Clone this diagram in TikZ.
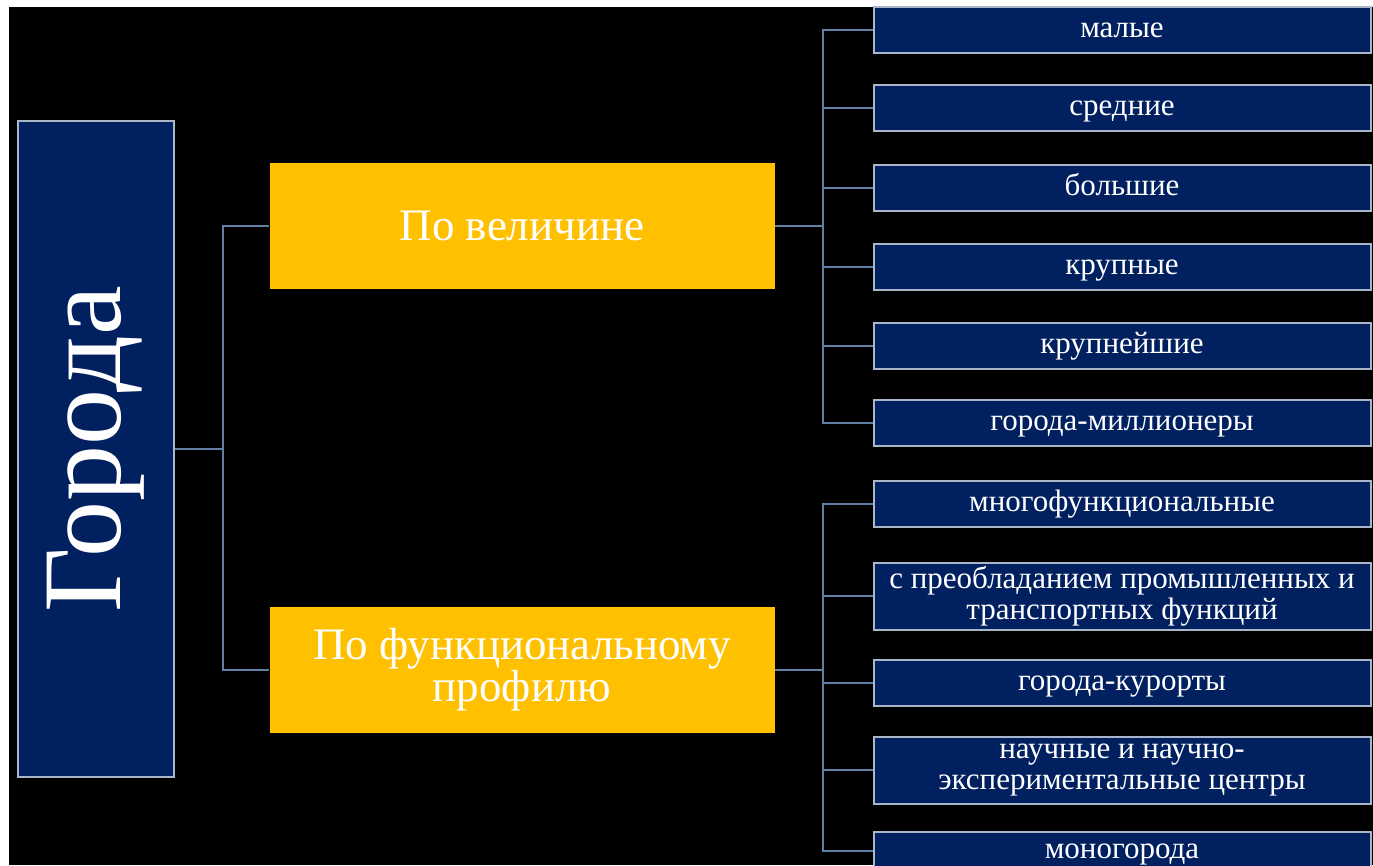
\documentclass[tikz,border=0pt]{standalone}
\usepackage{fontspec}
\setmainfont{Liberation Serif}
\usetikzlibrary{positioning}

\definecolor{navy}{HTML}{002060}
\definecolor{boxline}{HTML}{A9B6CA}
\definecolor{gold}{HTML}{FFC000}
\definecolor{linkblue}{HTML}{5F80A4}

\begin{document}
\begin{tikzpicture}[x=1pt,y=-1pt,
  root/.style={draw=boxline,fill=navy,text=white,line width=2.5pt,
    minimum width=156pt,minimum height=656pt,inner sep=0pt,
    font=\fontsize{112}{112}\selectfont},
  group/.style={fill=gold,text=white,minimum width=505pt,minimum height=126pt,
    inner sep=0pt,align=center,font=\fontsize{45}{40}\selectfont},
  kind/.style={draw=boxline,fill=navy,text=white,line width=2pt,
    minimum width=497pt,minimum height=46pt,inner sep=0pt,align=center,
    font=\fontsize{31}{31}\selectfont},
  onerow/.style={kind,text height=15pt,text depth=1pt},
  tworow/.style={kind,minimum height=67pt},
  link/.style={draw=linkblue,line width=2pt}]
  % page and background
  \useasboundingbox (0,0) rectangle (1373,865);
  \clip (0,0) rectangle (1373,865);
  \fill[white] (0,0) rectangle (1373,865);
  \fill[black] (9,7) rectangle (1373,865);

  \node[root] (city) at (96,449) {\rotatebox{90}{Города}};

  \node[group] (size) at (522,226) {По величине};
  \node[group] (func) at (522,670) {По функциональному\\профилю};

  % by size
  \node[onerow] (small)   at (1122,30)  {малые};
  \node[onerow] (medium)  at (1122,108) {средние};
  \node[onerow] (big)     at (1122,188) {большие};
  \node[onerow] (large)   at (1122,267) {крупные};
  \node[onerow] (largest) at (1122,346) {крупнейшие};
  \node[onerow] (million) at (1122,423) {города-миллионеры};

  % by profile
  \node[onerow] (multi)   at (1122,504) {многофункциональные};
  \node[tworow] (indust)  at (1122,596) {с преобладанием промышленных и\\транспортных функций};
  \node[onerow] (resort)  at (1122,683) {города-курорты};
  \node[tworow] (science) at (1122,770) {научные и научно-\\экспериментальные центры};
  \node[onerow,minimum height=38pt] (mono) at (1122,851) {моногорода};

  % connectors
  \draw[link] (city.east) -- ++(48,0) coordinate (busL);
  \draw[link] (busL) |- (size.west);
  \draw[link] (busL) |- (func.west);

  \draw[link] (size.east) -- ++(48,0) coordinate (busA);
  \draw[link] (busA) |- (small.west);
  \draw[link] (busA) |- (medium.west);
  \draw[link] (busA) |- (big.west);
  \draw[link] (busA) |- (large.west);
  \draw[link] (busA) |- (largest.west);
  \draw[link] (busA) |- (million.west);

  \draw[link] (func.east) -- ++(48,0) coordinate (busB);
  \draw[link] (busB) |- (multi.west);
  \draw[link] (busB) |- (indust.west);
  \draw[link] (busB) |- (resort.west);
  \draw[link] (busB) |- (science.west);
  \draw[link] (busB) |- (mono.west);
\end{tikzpicture}
\end{document}
